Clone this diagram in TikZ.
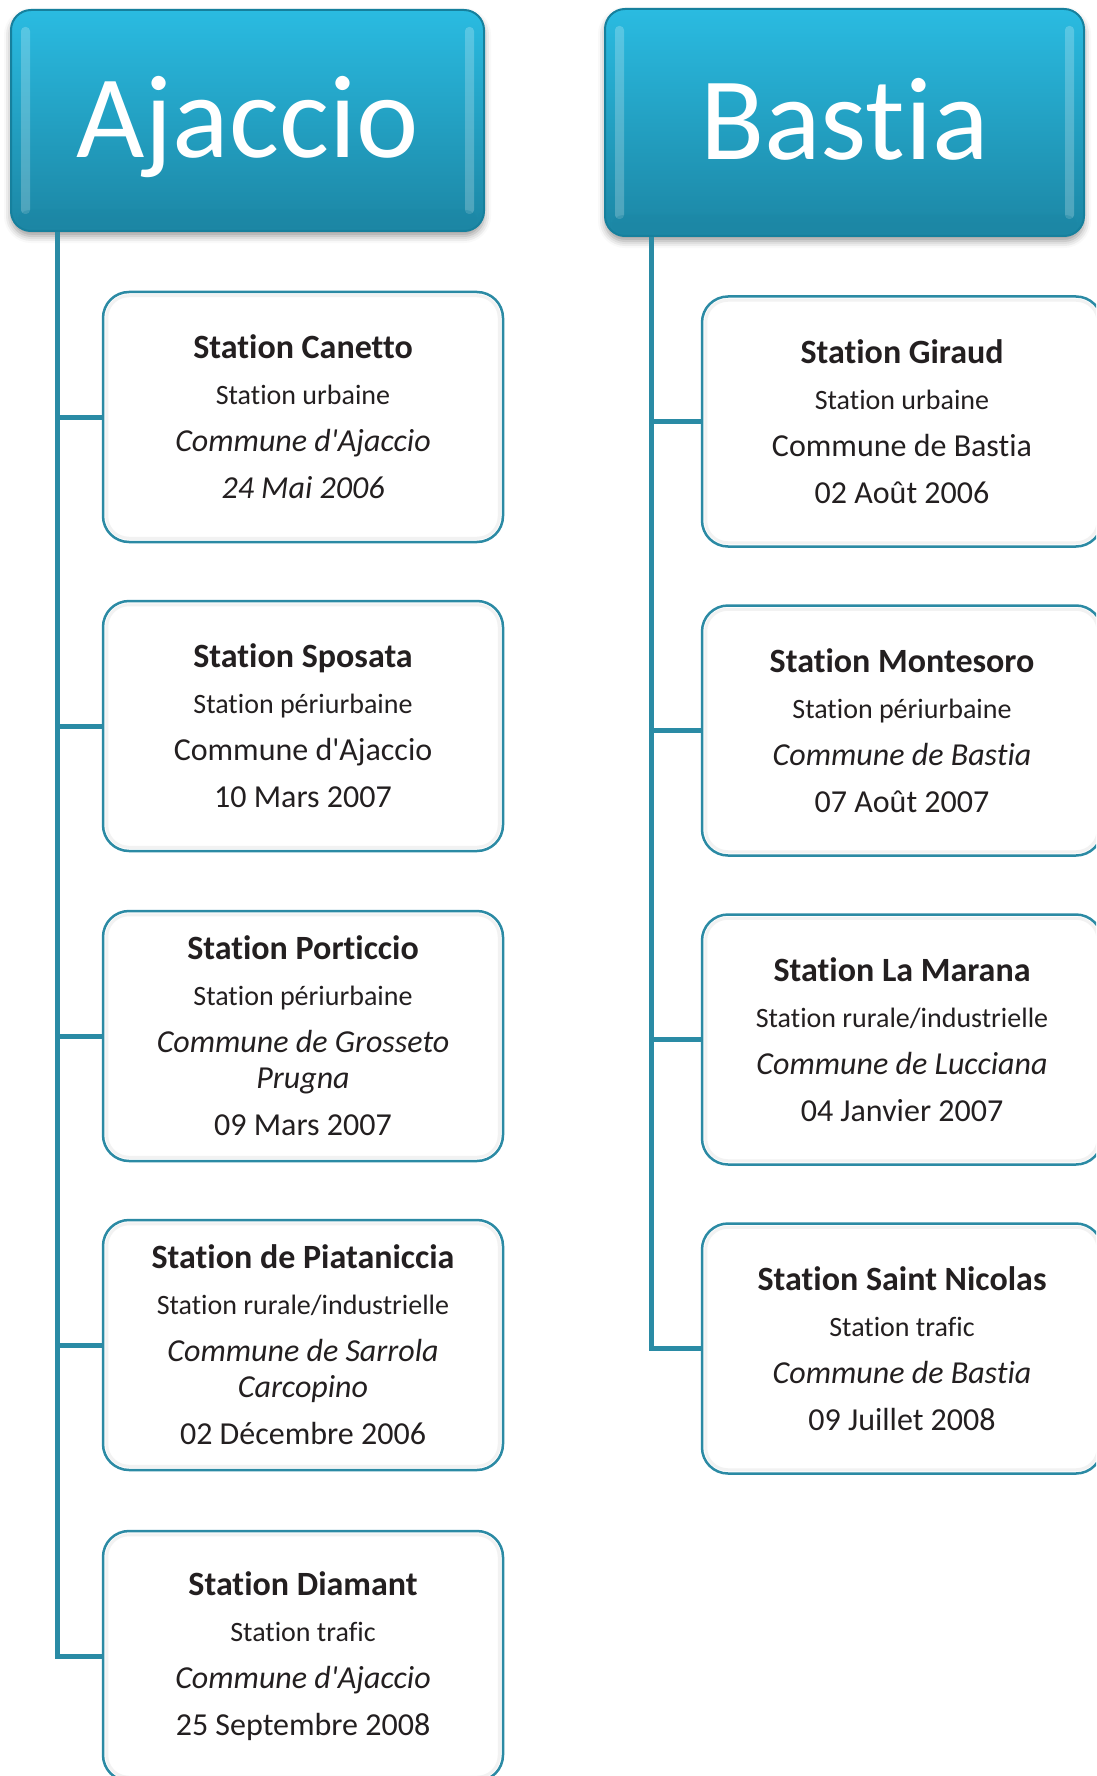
\documentclass[tikz,border=0pt]{standalone}
\usepackage{fontspec}
\setmainfont{Carlito}[Ligatures={TeXOff,NoCommon}]
\usetikzlibrary{shadows.blur}

\definecolor{ink}{HTML}{231F20}
\definecolor{branchline}{HTML}{2A8BA5}
\definecolor{cardline}{HTML}{2B8AA4}
\definecolor{headtop}{HTML}{2ABBE1}
\definecolor{headmid}{HTML}{15A8CE}
\definecolor{headbot}{HTML}{1C86A4}
\definecolor{headrim}{HTML}{16809D}

% Four-line station card: name, type, commune, date
\newcommand{\stationcard}[4]{%
  \parindent=0pt\parskip=0pt\spaceskip=0pt\xspaceskip=0pt
  \leftskip=0pt plus 1fil\rightskip=0pt plus 1fil\parfillskip=0pt
  {\fontsize{34pt}{34pt}\selectfont\bfseries #1\par}%
  {\fontsize{28pt}{46pt}\selectfont #2\par}%
  {\fontsize{32pt}{47pt}\selectfont #3\par}%
  {\fontsize{32pt}{47pt}\selectfont #4\par}}

\tikzset{
  header/.style={draw=headrim, line width=2pt, rounded corners=20pt,
    top color=headtop, middle color=headmid, bottom color=headbot,
    text=white, inner sep=0pt, text height=74.6pt, text depth=0pt,
    font=\fontsize{118pt}{118pt}\selectfont,
    blur shadow={shadow xshift=0pt, shadow yshift=-5pt,
      shadow blur radius=7pt, shadow opacity=40}},
  card/.style={draw=cardline, line width=2.5pt, fill=white,
    rounded corners=26pt, minimum width=400pt, minimum height=250pt,
    text width=384pt, align=center, inner sep=0pt, text=ink},
  trunk/.style={draw=branchline, line width=5pt, line join=miter},
  gloss/.style={fill=white, opacity=0.22, rounded corners=4pt},
}

% glossy side streaks inside a header box
\newcommand{\headgloss}[1]{%
  \fill[gloss] ([xshift=11pt,yshift=-18pt]#1.north west)
    rectangle ([xshift=20pt,yshift=18pt]#1.south west);
  \fill[gloss] ([xshift=-20pt,yshift=-18pt]#1.north east)
    rectangle ([xshift=-11pt,yshift=18pt]#1.south east);
  \fill[headbot, opacity=0.35, rounded corners=14pt]
    ([xshift=6pt,yshift=22pt]#1.south west)
    rectangle ([xshift=-6pt,yshift=4pt]#1.south east);}

% faint inner rim of a card
\newcommand{\cardrim}[1]{%
  \draw[black!5, line width=3pt, rounded corners=22pt]
    ([xshift=5pt,yshift=-5pt]#1.north west)
    rectangle ([xshift=-5pt,yshift=5pt]#1.south east);}

\begin{document}
\begin{tikzpicture}[x=1pt,y=-1pt]
\useasboundingbox (0,0) rectangle (1096,1776);
\clip (0,0) rectangle (1096,1776);

% city headers
\node[header, minimum width=473pt, minimum height=221pt] (ajaccio) at (247.5,120.5) {Ajaccio};
\node[header, minimum width=479pt, minimum height=227pt] (bastia) at (844.5,122.5) {Bastia};
\headgloss{ajaccio}
\headgloss{bastia}

% Ajaccio stations
\node[card] (a1) at (303,417) {\stationcard{Station Canetto}{Station urbaine}{\itshape Commune d'Ajaccio}{\itshape 24 Mai 2006}};
\node[card] (a2) at (303,726) {\stationcard{Station Sposata}{Station périurbaine}{Commune d'Ajaccio}{10 Mars 2007}};
\node[card] (a3) at (303,1036) {\stationcard{Station Porticcio}{Station périurbaine}{\itshape Commune de Grosseto\par\vskip-11pt Prugna}{09 Mars 2007}};
\node[card] (a4) at (303,1345) {\stationcard{Station de Piataniccia}{Station rurale/industrielle}{\itshape Commune de Sarrola\par\vskip-11pt Carcopino}{02 Décembre 2006}};
\node[card] (a5) at (303,1656) {\stationcard{Station Diamant}{Station trafic}{\itshape Commune d'Ajaccio}{25 Septembre 2008}};

% Bastia stations
\node[card] (b1) at (902,421.5) {\stationcard{Station Giraud}{Station urbaine}{Commune de Bastia}{02 Août 2006}};
\node[card] (b2) at (902,730.5) {\stationcard{Station Montesoro}{Station périurbaine}{\itshape Commune de Bastia}{07 Août 2007}};
\node[card] (b3) at (902,1039.5) {\stationcard{Station La Marana}{Station rurale/industrielle}{\itshape Commune de Lucciana}{04 Janvier 2007}};
\node[card] (b4) at (902,1348.5) {\stationcard{Station Saint Nicolas}{Station trafic}{\itshape Commune de Bastia}{09 Juillet 2008}};

\foreach \c in {a1,a2,a3,a4,a5,b1,b2,b3,b4} {\cardrim{\c}}

% tree connectors
\coordinate (tl) at (57.5,0);
\coordinate (tr) at (651,0);
\foreach \c in {a1,a2,a3,a4,a5}
  \draw[trunk] (ajaccio.south -| tl) |- (\c.west);
\foreach \c in {b1,b2,b3,b4}
  \draw[trunk] (bastia.south -| tr) |- (\c.west);
\end{tikzpicture}
\end{document}
